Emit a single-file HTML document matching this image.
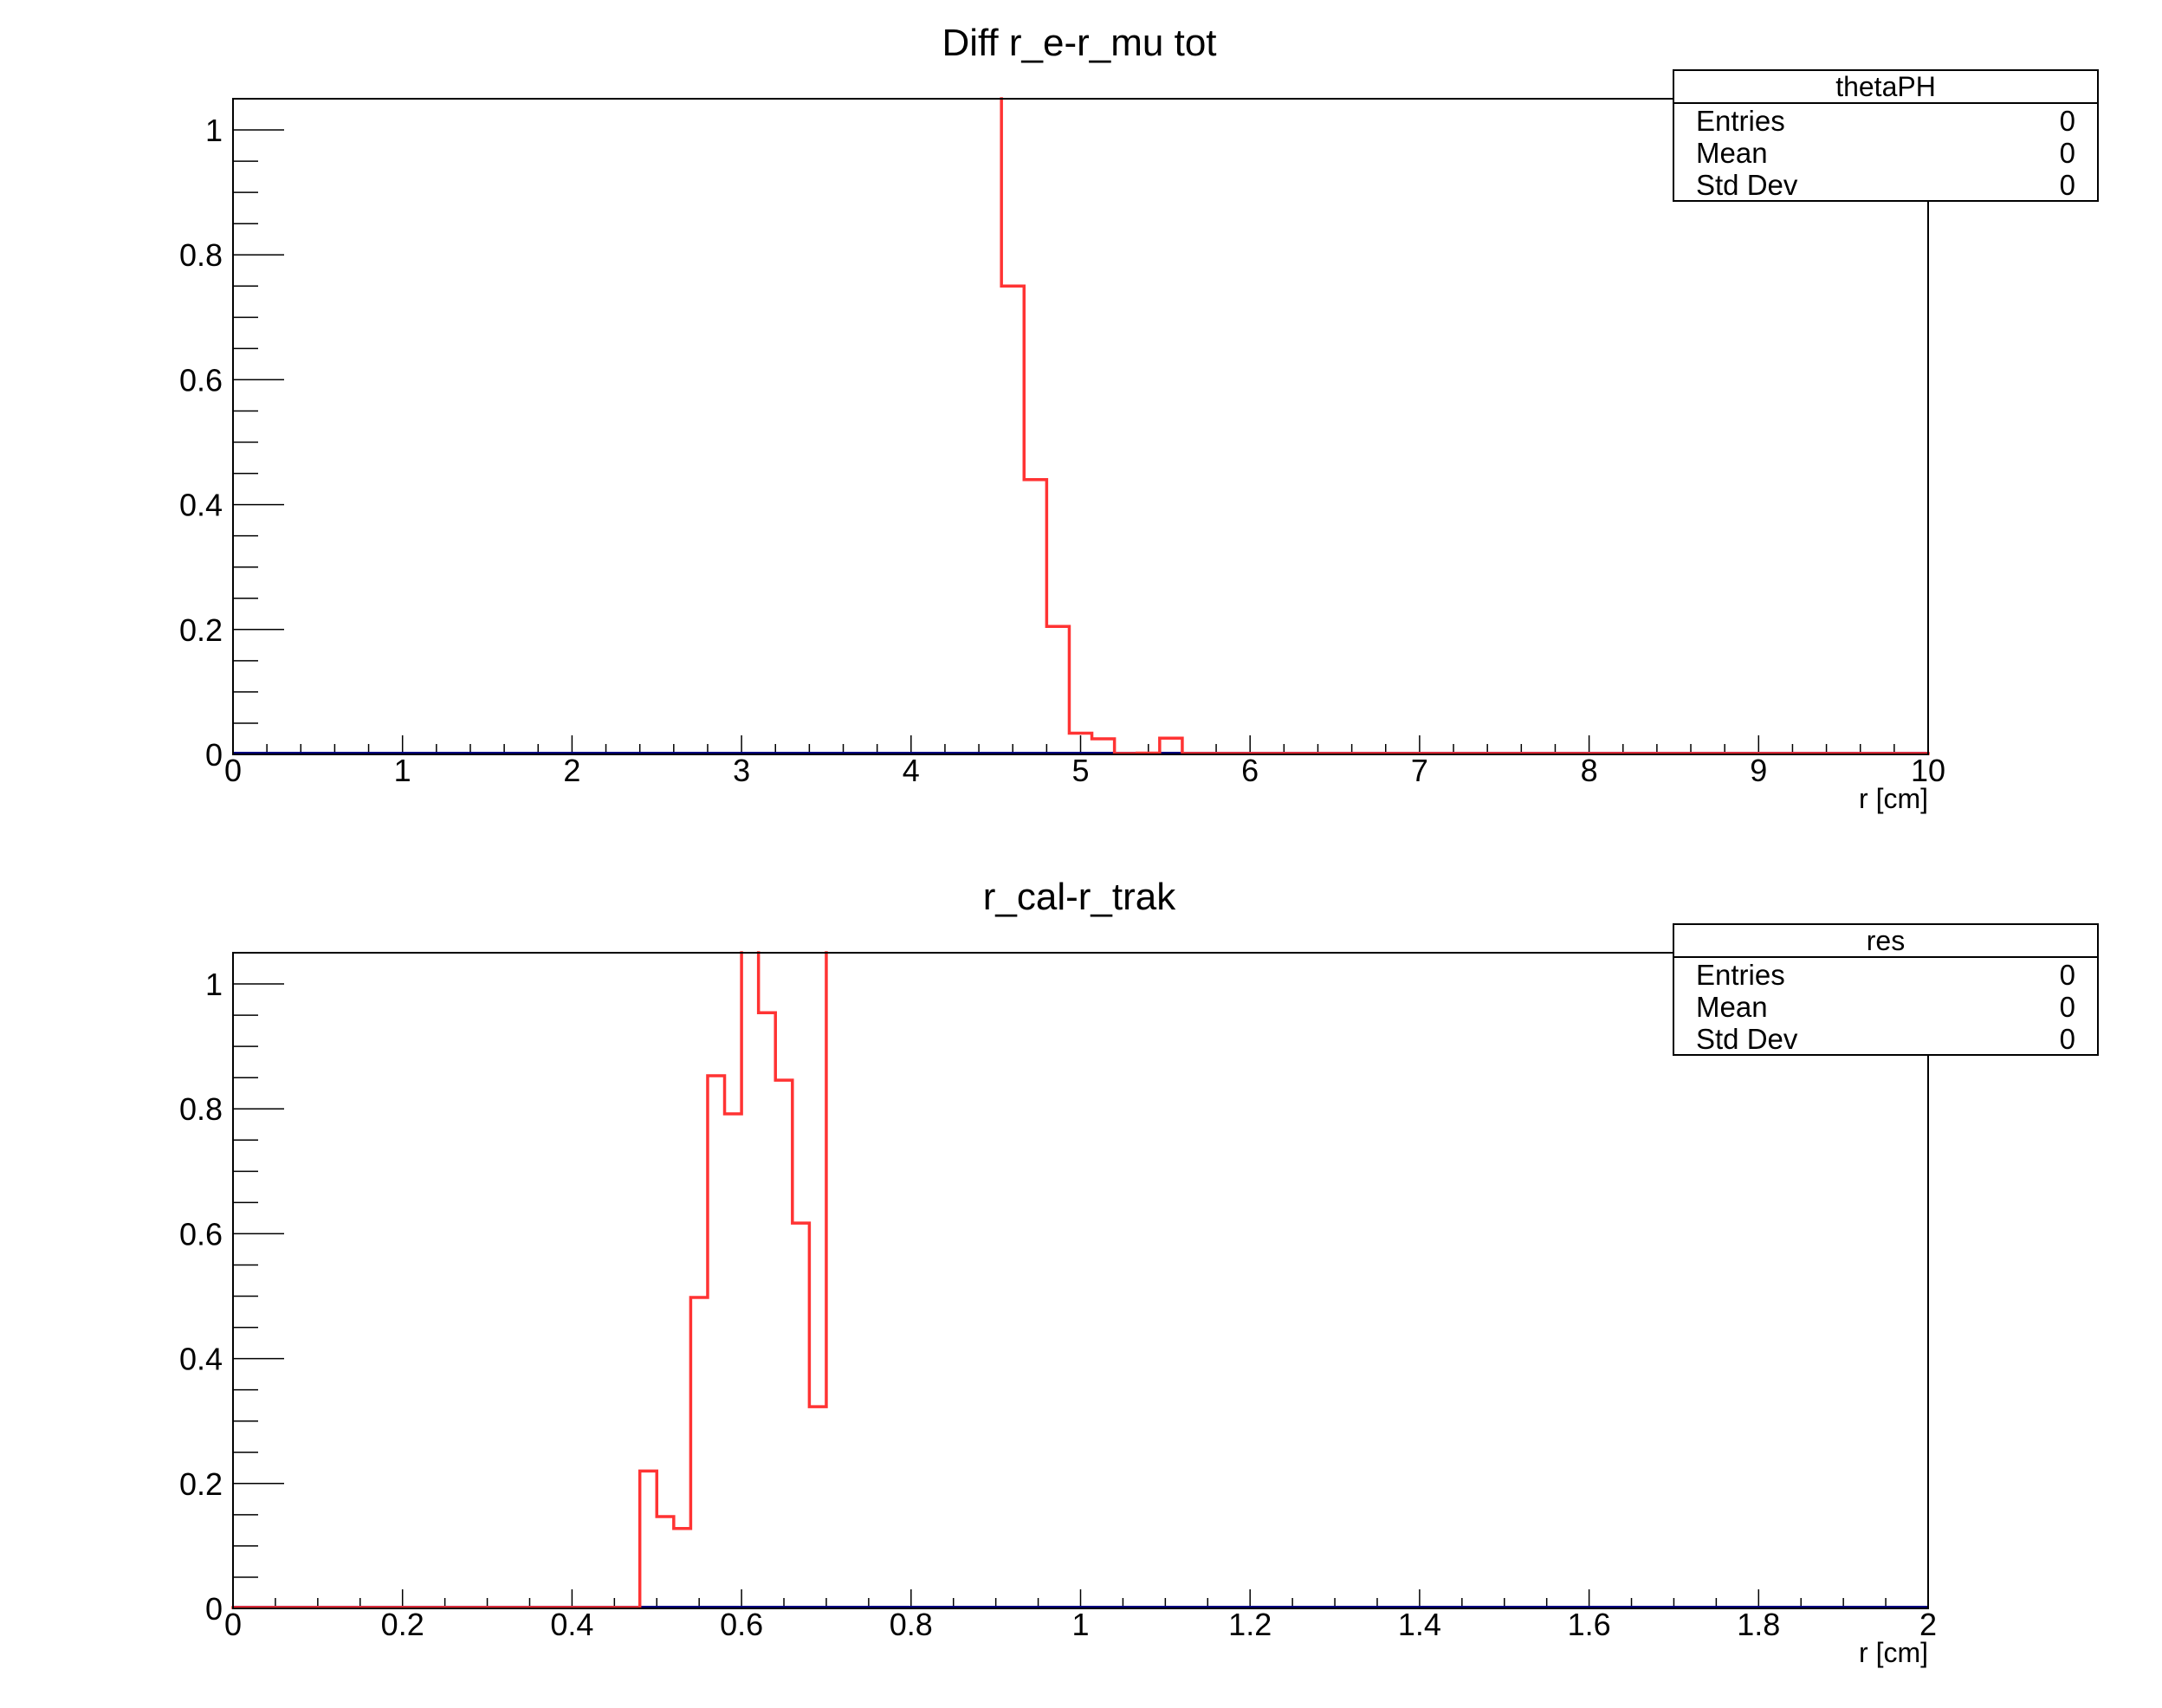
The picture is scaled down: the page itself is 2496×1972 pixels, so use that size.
<!DOCTYPE html>
<html><head><meta charset="utf-8"><style>
html,body{margin:0;padding:0;background:#fff;}
svg{display:block;font-family:"Liberation Sans",Arial,sans-serif;}
</style></head><body>
<svg id="c" width="2496" height="1972" viewBox="0 0 2496 1972" xmlns="http://www.w3.org/2000/svg"></svg>
<script>
// ---- data: top histogram (75 bins over 0..10), values above range clipped
const topBinCount = 75;
const topXMin = 0, topXMax = 10;
const topValues = [5,5,5,5,5,5,5,5,5,5,5,5,5,5,5,5,5,5,5,5,5,5,5,5,5,5,5,5,5,5,5,5,5,5,
  0.75,0.44,0.205,0.034,0.025,0,0.002,0.026,0,0,0,0,0,0,0,0,0,0,0,0,0,0,0,0,0,0,0,0,0,0,0,0,0,0,0,0,0,0,0,0,0];
const topXTicks = [0,1,2,3,4,5,6,7,8,9,10];
const topXTickLabels = ["0","1","2","3","4","5","6","7","8","9","10"];
// ---- data: bottom histogram (100 bins over 0..2)
const botBinCount = 100;
const botXMin = 0, botXMax = 2;
const botValues = [0,0,0,0,0,0,0,0,0,0,0,0,0,0,0,0,0,0,0,0,0,0,0,0,
  0.22,0.147,0.128,0.498,0.853,0.792,5,0.954,0.846,0.617,0.323,
  5,5,5,5,5,5,5,5,5,5,5,5,5,5,5,5,5,5,5,5,5,5,5,5,5,5,5,5,5,5,5,5,5,5,5,5,5,5,5,5,5,5,5,5,5,5,5,5,5,5,5,5,5,5,5];
const botXTicks = [0,0.2,0.4,0.6,0.8,1,1.2,1.4,1.6,1.8,2];
const botXTickLabels = ["0","0.2","0.4","0.6","0.8","1","1.2","1.4","1.6","1.8","2"];
const yTicks = [0,0.2,0.4,0.6,0.8,1];
const yTickLabels = ["0","0.2","0.4","0.6","0.8","1"];
const yMax = 1.05;

const svg = document.getElementById('c');
const NS = 'http://www.w3.org/2000/svg';
function mk(tag, attrs, parent){
  const e = document.createElementNS(NS, tag);
  for (const k in attrs) e.setAttribute(k, attrs[k]);
  (parent||svg).appendChild(e);
  return e;
}

function panel(cfg){
  const g = mk('g', {});
  
  
  const L = 269, R = 2226, T = cfg.top, B = cfg.top + 757;
  const xs = v => L + (v - cfg.xmin) / (cfg.xmax - cfg.xmin) * (R - L);
  const ys = v => B - v / yMax * (B - T);

  const title = mk('text', {x:1246, y:T-50, 'font-size':44, 'text-anchor':'middle', fill:'#000'}, g);
  title.textContent = cfg.title;
  
  

  for (let i = 0; i <= 21; i++) {
    const v = i * 0.05;
    const major = i % 4 === 0;
    const t = mk('line', {x1:L, x2:L + (major ? 59 : 29), y1:ys(v), y2:ys(v), stroke:'#000', 'stroke-width':1.5}, g);
    
    
  }
  yTicks.forEach((v, i) => {
    const t = mk('text', {x:257, y:ys(v)+13, 'font-size':36, 'text-anchor':'end', fill:'#000'}, g);
    t.textContent = yTickLabels[i];
    
    
  });
  const nMinor = (cfg.xTicks.length - 1) * cfg.sub;
  for (let i = 0; i <= nMinor; i++) {
    const v = cfg.xmin + (cfg.xmax - cfg.xmin) * i / nMinor;
    const major = i % cfg.sub === 0;
    const t = mk('line', {x1:xs(v), x2:xs(v), y1:B, y2:B - (major ? 22 : 12), stroke:'#000', 'stroke-width':1.5}, g);
    
    
  }
  cfg.xTicks.forEach((v, i) => {
    const t = mk('text', {x:xs(v), y:B+31, 'font-size':36, 'text-anchor':'middle', fill:'#000'}, g);
    t.textContent = cfg.xLabels[i];
    
    
  });
  const xt = mk('text', {x:R, y:B+62, 'font-size':32, 'text-anchor':'end', fill:'#000'}, g);
  xt.textContent = 'r [cm]';
  
  

  const bl = mk('line', {x1:L, x2:R, y1:B-1, y2:B-1, stroke:'#000080', 'stroke-width':4}, g);
  
  

  const vals = cfg.values, n = cfg.bins;
  const w = (cfg.xmax - cfg.xmin) / n;
  const cy = v => ys(Math.min(v, yMax)) - (v <= 0 ? 1 : 0);
  let d = '';
  for (let i = 0; i < n; i++) {
    const x0 = xs(cfg.xmin + i*w), x1 = xs(cfg.xmin + (i+1)*w);
    const prev = i > 0 ? vals[i-1] : vals[i];
    if (i > 0 && !(prev >= yMax && vals[i] >= yMax) && prev !== vals[i]) {
      d += 'M' + x0 + ' ' + cy(prev) + 'V' + cy(vals[i]);
    }
    if (vals[i] < yMax) d += 'M' + x0 + ' ' + cy(vals[i]) + 'H' + x1;
  }
  const p = mk('path', {d:d, fill:'none', stroke:'#ff3333', 'stroke-width':3.5, 'stroke-linecap':'square'}, g);
  
  

  const fr = mk('rect', {x:L, y:T, width:R-L, height:B-T, fill:'none', stroke:'#000', 'stroke-width':2}, g);
  
  

  const sb = mk('g', {}, g);
  
  
  const sy = T - 33;
  mk('rect', {x:1932, y:sy, width:490, height:151, fill:'#fff', stroke:'#000', 'stroke-width':2}, sb);
  mk('line', {x1:1932, x2:2422, y1:sy+38, y2:sy+38, stroke:'#000', 'stroke-width':2}, sb);
  const st = mk('text', {x:2177, y:sy+30, 'font-size':32, 'text-anchor':'middle'}, sb);
  st.textContent = cfg.statName;
  
  
  ['Entries','Mean','Std Dev'].forEach((lab, i) => {
    const a = mk('text', {x:1958, y:sy+70+i*37, 'font-size':33}, sb);
    a.textContent = lab;
    
    
    const b = mk('text', {x:2396, y:sy+70+i*37, 'font-size':33, 'text-anchor':'end'}, sb);
    b.textContent = '0';
    
    
  });
}

panel({name:'top-panel', title:'Diff r_e-r_mu tot', statName:'thetaPH', top:114, xmin:topXMin, xmax:topXMax,
  bins:topBinCount, values:topValues, xTicks:topXTicks, xLabels:topXTickLabels, sub:5});
panel({name:'bottom-panel', title:'r_cal-r_trak', statName:'res', top:1100, xmin:botXMin, xmax:botXMax,
  bins:botBinCount, values:botValues, xTicks:botXTicks, xLabels:botXTickLabels, sub:4});
</script>
</body></html>
